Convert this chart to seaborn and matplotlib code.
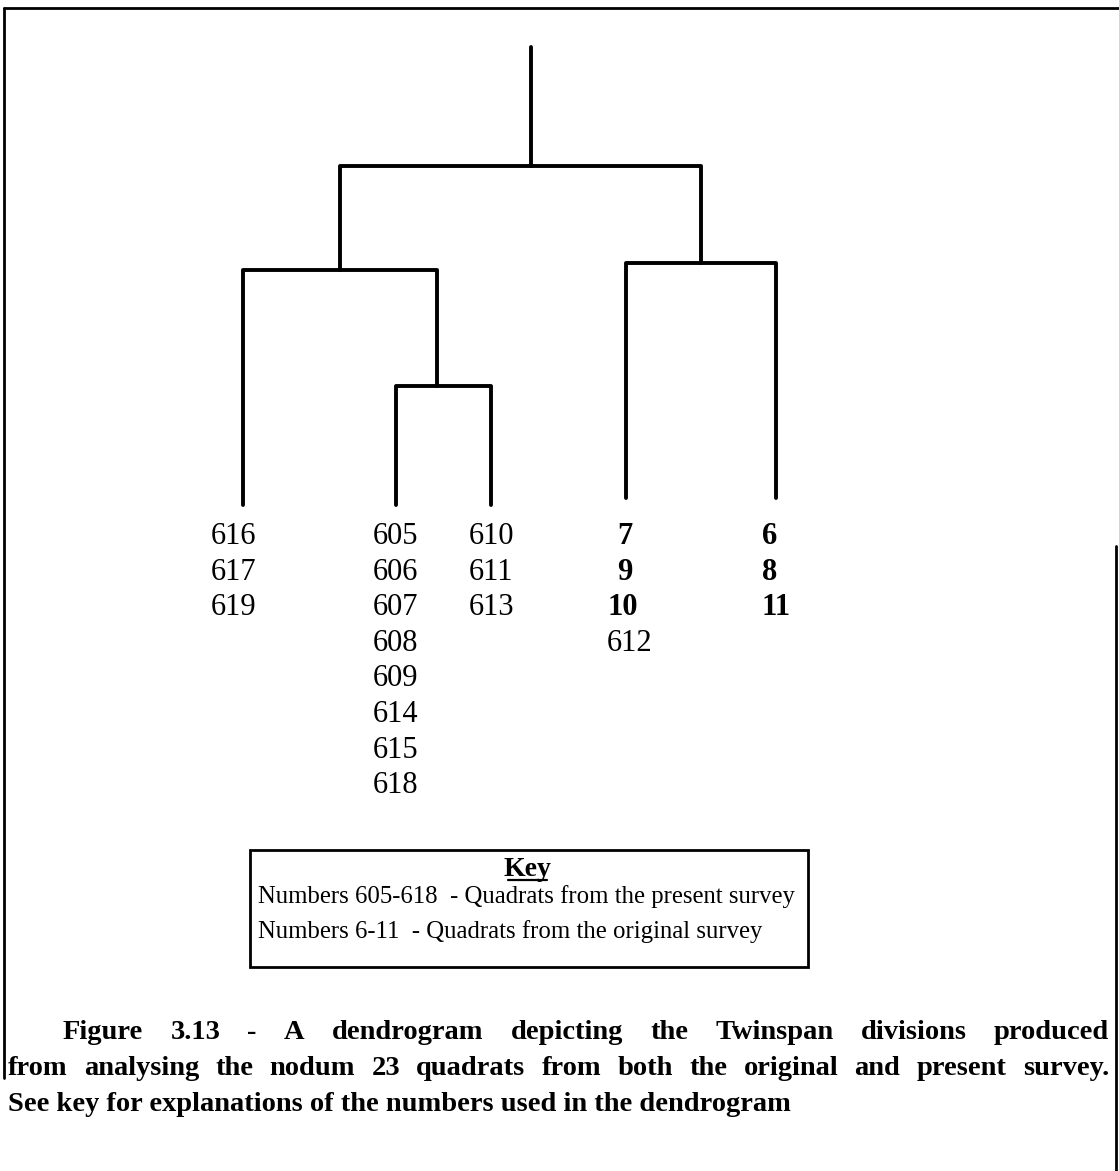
import matplotlib
matplotlib.use("Agg")
import matplotlib.pyplot as plt
import pandas as pd
import seaborn as sns
from matplotlib.patches import Rectangle
from matplotlib.lines import Line2D

# leaf groups of the Twinspan dendrogram (bold = original survey quadrats)
group_a = ["616", "617", "619"]
group_b = ["605", "606", "607", "608", "609", "614", "615", "618"]
group_c = ["610", "611", "613"]
group_d = ["7", "9", "10", "612"]
group_e = ["6", "8", "11"]
original_survey = ["6", "7", "8", "9", "10", "11"]

# division levels (height above the leaves)
leaf_height = [0, 0, 0, 7, 7]
height_bc = 119
height_a_bc = 235
height_de = 242
height_root = 339
height_stem = 458

key_title = "Key"
key_lines = ["Numbers 605-618  - Quadrats from the present survey",
             "Numbers 6-11  - Quadrats from the original survey"]
caption = ["Figure 3.13 - A dendrogram depicting the Twinspan divisions produced",
           "from analysing the nodum 23 quadrats from both the original and present survey.",
           "See key for explanations of the numbers used in the dendrogram"]

######

sns.set_style("white")
plt.rcParams['font.family'] = ['Liberation Serif', 'DejaVu Serif']
plt.rcParams['text.color'] = 'black'

W, H = 1119, 1171
fig = plt.figure(figsize=(W / 100, H / 100), dpi=100)
ax = fig.add_axes([0, 0, 1, 1])

base = 505
leaf_x = [243, 396, 491, 626, 776]

def y_of(h):
    return base - h

# build U-shaped segments
segs = []
def u_link(xl, hl, xr, hr, h, name):
    segs.append(pd.DataFrame({'x': [xl, xl, xr, xr],
                              'y': [y_of(hl), y_of(h), y_of(h), y_of(hr)],
                              'seg': name}))
    return (xl + xr) / 2

x_bc = u_link(leaf_x[1], leaf_height[1], leaf_x[2], leaf_height[2], height_bc, 'bc') - 7
x_abc = u_link(leaf_x[0], leaf_height[0], x_bc, height_bc, height_a_bc, 'abc')
x_de = u_link(leaf_x[3], leaf_height[3], leaf_x[4], leaf_height[4], height_de, 'de')
x_root = u_link(x_abc, height_a_bc, x_de, height_de, height_root, 'root') + 11
segs.append(pd.DataFrame({'x': [x_root, x_root],
                          'y': [y_of(height_root), y_of(height_stem)],
                          'seg': 'stem'}))
tree = pd.concat(segs, ignore_index=True)

sns.lineplot(data=tree, x='x', y='y', units='seg', estimator=None, sort=False,
             color='black', linewidth=2.8, ax=ax, legend=False)
ax.set_xlim(0, W)
ax.set_ylim(H, 0)
ax.axis('off')

# leaf labels
label_left = [211, 373, 469, 607, 762]
row0, row_step = 544, 35.6
for gi, grp in enumerate([group_a, group_b, group_c, group_d, group_e]):
    for ri, lab in enumerate(grp):
        bold = lab in original_survey
        x = label_left[gi]
        if bold and len(lab) == 1 and gi == 3:
            x += 10
        ax.text(x, row0 + ri * row_step, lab, fontsize=22, ha='left', va='baseline',
                fontweight='bold' if bold else 'normal')

# key box
ax.add_patch(Rectangle((250, 850), 558, 117, fill=False, edgecolor='black', lw=2))
ax.text(527, 876, key_title, fontsize=20, fontweight='bold', ha='center', va='baseline')
ax.plot([508, 547], [880, 880], color='black', lw=1.6)
ax.text(258, 903, key_lines[0], fontsize=17.8, ha='left', va='baseline')
ax.text(258, 938, key_lines[1], fontsize=17.8, ha='left', va='baseline')

# caption, justified between the margins
fig.canvas.draw()
renderer = fig.canvas.get_renderer()

def justify(line, y, x0, x1, fs=20.5):
    words = line.split(' ')
    texts = [ax.text(0, y, w, fontsize=fs, fontweight='bold', ha='left', va='baseline')
             for w in words]
    widths = [t.get_window_extent(renderer).width for t in texts]
    gap = (x1 - x0 - sum(widths)) / (len(words) - 1)
    x = x0
    for t, w in zip(texts, widths):
        t.set_x(x)
        x += w + gap

justify(caption[0], 1039, 63, 1109)
justify(caption[1], 1075, 8, 1109)
ax.text(8, 1111, caption[2], fontsize=20.5, fontweight='bold', ha='left', va='baseline')

# page frame pieces from the scan
for xs, ys in [([4, W], [8, 8]), ([4, 4], [8, 1078]), ([1116, 1116], [546, H])]:
    ax.add_line(Line2D(xs, ys, color='black', lw=2))

fig.savefig("out.png", dpi=100)
